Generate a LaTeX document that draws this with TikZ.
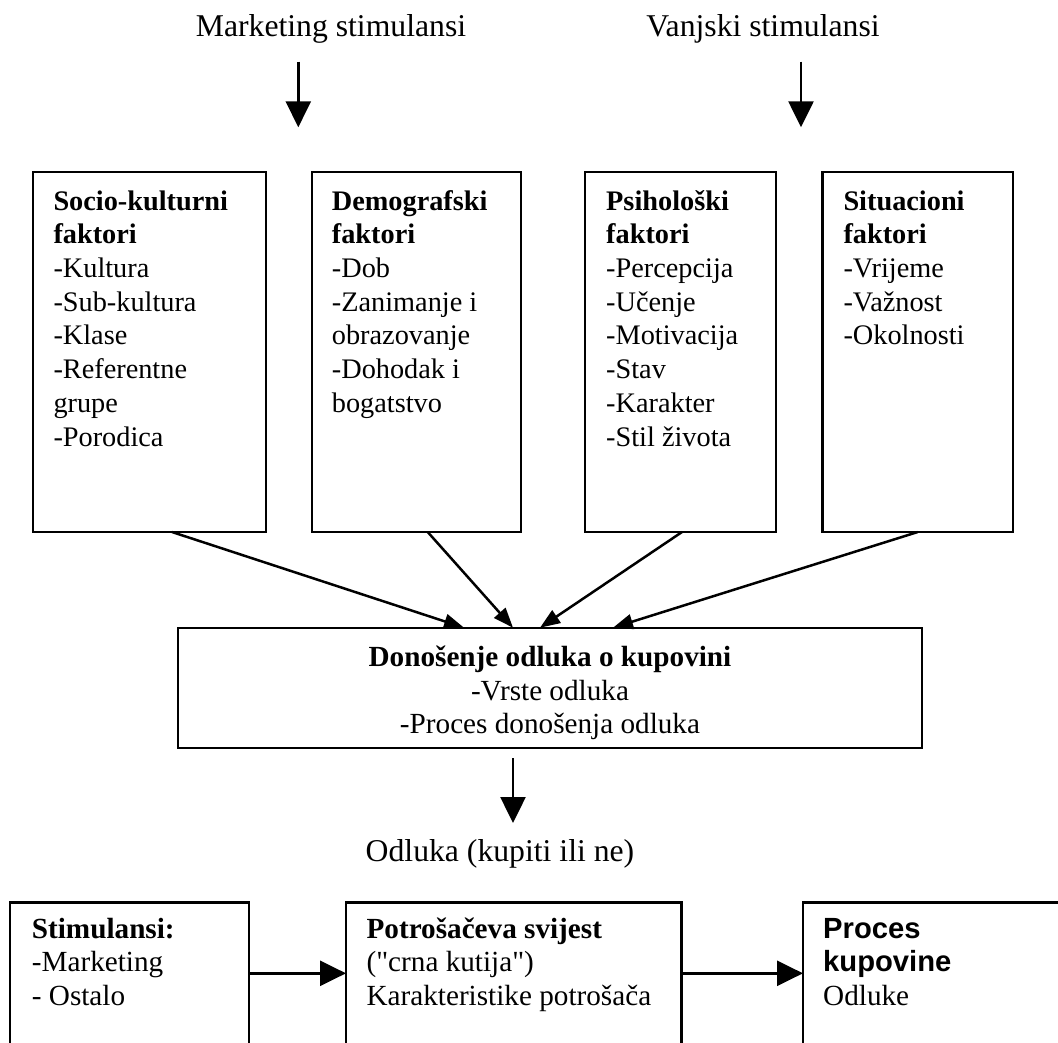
\documentclass[tikz,border=0pt]{standalone}
\usepackage{fontspec}
\setmainfont{Liberation Serif}
\setsansfont{Liberation Sans}
\usetikzlibrary{arrows.meta,calc}
\tikzset{
  boxr/.style={draw, line width=2.3pt, inner sep=0pt, outer sep=0pt, anchor=north west},
  txta/.style={font=\fontsize{28.3}{33.7}\selectfont, align=left, anchor=north west, inner sep=0pt},
  txtmid/.style={font=\fontsize{29.2}{33.2}\selectfont, align=center, anchor=north, inner sep=0pt},
  txtb/.style={font=\fontsize{29.2}{33.7}\selectfont, align=left, anchor=north west, inner sep=0pt},
  lbl/.style={font=\fontsize{31.7}{38}\selectfont, anchor=base, inner sep=0pt},
  bigarr/.style={line width=2.5pt, -{Triangle[length=26pt,width=25pt]}},
  smallarr/.style={line width=2.5pt, -{Triangle[length=20pt,width=15pt]}},
}
\begin{document}
\begin{tikzpicture}[x=1pt,y=-1pt]
\useasboundingbox (0,0) rectangle (1058,1042);

% top labels
\node[lbl] (ms) at (331,36) {Marketing stimulansi};
\node[lbl] (vs) at (763,36) {Vanjski stimulansi};
\coordinate (ms1) at (298.3,61.7);
\coordinate (ms2) at (298.3,127.3);
\coordinate (vs1) at (801,61.7);
\coordinate (vs2) at (801,127.3);
\draw[bigarr] (ms1) -- (ms2);
\draw[bigarr] (vs1) -- (vs2);

% factor boxes
\node[boxr, minimum width=233pt, minimum height=360pt] (s1) at (33,172) {};
\node[boxr, minimum width=209pt, minimum height=360pt] (s2) at (312,172) {};
\node[boxr, minimum width=191pt, minimum height=360pt] (s3) at (585,172) {};
\node[boxr, minimum width=190.5pt, minimum height=360pt] (s4) at (822.5,172) {};

\node[txta] (s1t) at (53.3,186.4) {\strut\textbf{Socio-kulturni}\\\textbf{faktori}\\-Kultura\\-Sub-kultura\\-Klase\\-Referentne\\grupe\\-Porodica};
\node[txta] (s2t) at (331.7,186.4) {\strut\textbf{Demografski}\\\textbf{faktori}\\-Dob\\-Zanimanje i\\obrazovanje\\-Dohodak i\\bogatstvo};
\node[txta] (s3t) at (606,186.4) {\strut\textbf{Psihološki}\\\textbf{faktori}\\-Percepcija\\-Učenje\\-Motivacija\\-Stav\\-Karakter\\-Stil života};
\node[txta] (s4t) at (843.3,186.4) {\strut\textbf{Situacioni}\\\textbf{faktori}\\-Vrijeme\\-Važnost\\-Okolnosti};

% decision box
\node[boxr, minimum width=744pt, minimum height=120pt] (dec) at (178,627.7) {};
\node[txtmid] (dect) at (550,643.5) {\strut\textbf{Donošenje odluka o kupovini}\\-Vrste odluka\\-Proces donošenja odluka};

\draw[smallarr] ([xshift=22.5pt]s1.south) -- ([xshift=-86pt]dec.north);
\draw[smallarr] ([xshift=11.2pt]s2.south) -- ([xshift=-37pt]dec.north);
\draw[smallarr] ([xshift=1.5pt]s3.south) -- ([xshift=-10pt]dec.north);
\draw[smallarr] ([xshift=0pt]s4.south) -- ([xshift=63pt]dec.north);

% decision arrow and label
\coordinate (d1) at (513,758);
\coordinate (d2) at (513,823);
\draw[bigarr] (d1) -- (d2);
\node[lbl] (odl) at (500,861.7) {Odluka (kupiti ili ne)};

% bottom boxes (open at the bottom edge of the page)
\node[boxr, minimum width=239pt, minimum height=200pt] (ba) at (10,902.5) {};
\node[boxr, minimum width=335.5pt, minimum height=200pt] (bb) at (346,902.5) {};
\node[boxr, minimum width=300pt, minimum height=200pt] (bc) at (803,902.5) {};

\node[txtb] (bat) at (31.7,914.4) {\strut\textbf{Stimulansi:}\\-Marketing\\- Ostalo};
\node[txtb] (bbt) at (366.4,914.4) {\strut\textbf{Potrošačeva svijest}\\(\textquotedbl crna kutija\textquotedbl)\\Karakteristike potrošača};
\node[txtb] (bct) at (823,914.4) {\strut\textsf{\textbf{Proces}}\\\textsf{\textbf{kupovine}}\\Odluke};

\draw[bigarr] ([yshift=-70.8pt]ba.north east) -- ([yshift=-70.8pt]bb.north west);
\draw[bigarr] ([yshift=-70.8pt]bb.north east) -- ([yshift=-70.8pt]bc.north west);
\end{tikzpicture}
\end{document}
